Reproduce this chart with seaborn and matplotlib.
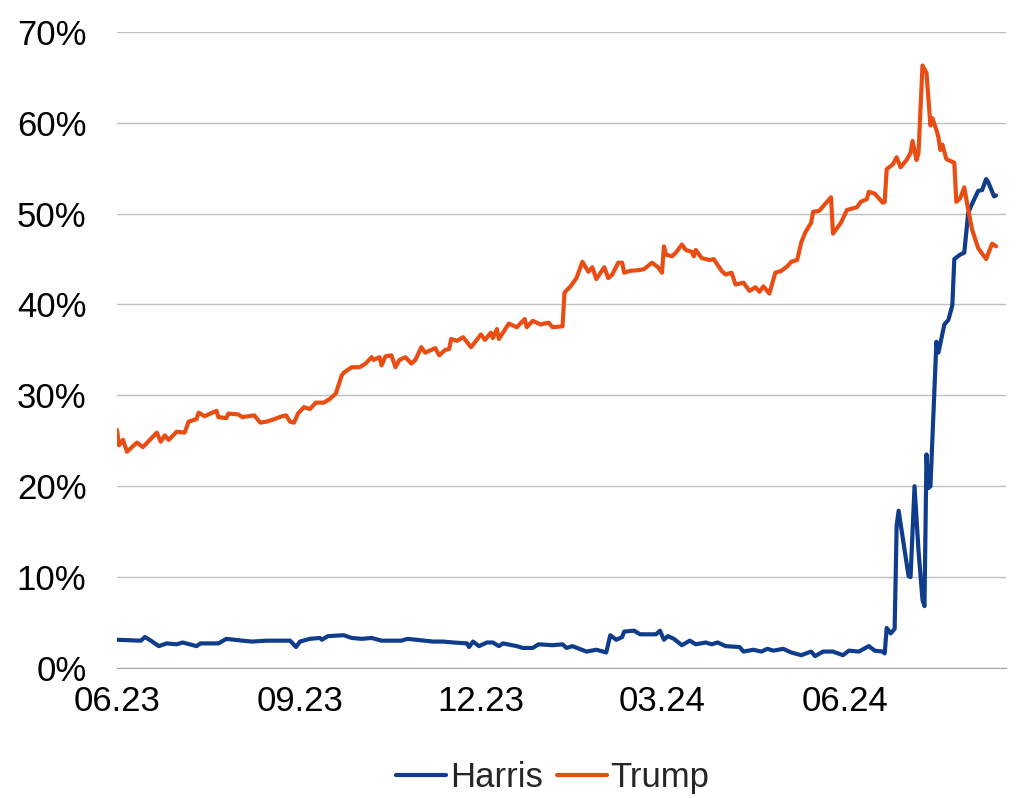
import pandas as pd
import matplotlib
matplotlib.use('Agg')
import matplotlib.pyplot as plt
import matplotlib.dates as mdates
from matplotlib.ticker import PercentFormatter
import seaborn as sns

# Betting odds (share, in %)
trump_dates = [
    '2023-06-01', '2023-06-02', '2023-06-04', '2023-06-06', '2023-06-11', '2023-06-14',
    '2023-06-21', '2023-06-23', '2023-06-25', '2023-06-27', '2023-07-01', '2023-07-05',
    '2023-07-07', '2023-07-11', '2023-07-12', '2023-07-15', '2023-07-21', '2023-07-22',
    '2023-07-26', '2023-07-27', '2023-08-01', '2023-08-03', '2023-08-09', '2023-08-12',
    '2023-08-15', '2023-08-18', '2023-08-23', '2023-08-25', '2023-08-27', '2023-08-29',
    '2023-08-31', '2023-09-03', '2023-09-06', '2023-09-09', '2023-09-13', '2023-09-16',
    '2023-09-19', '2023-09-22', '2023-09-23', '2023-09-27', '2023-10-01', '2023-10-04',
    '2023-10-07', '2023-10-08', '2023-10-11', '2023-10-12', '2023-10-14', '2023-10-17',
    '2023-10-19', '2023-10-21', '2023-10-24', '2023-10-27', '2023-10-29', '2023-11-01',
    '2023-11-03', '2023-11-08', '2023-11-10', '2023-11-13', '2023-11-15', '2023-11-16',
    '2023-11-19', '2023-11-22', '2023-11-26', '2023-12-01', '2023-12-03', '2023-12-06',
    '2023-12-07', '2023-12-09', '2023-12-10', '2023-12-15', '2023-12-19', '2023-12-23',
    '2023-12-24', '2023-12-27', '2023-12-31', '2024-01-04', '2024-01-06', '2024-01-11',
    '2024-01-12', '2024-01-15', '2024-01-18', '2024-01-21', '2024-01-24', '2024-01-26',
    '2024-01-28', '2024-02-01', '2024-02-03', '2024-02-05', '2024-02-08', '2024-02-10',
    '2024-02-11', '2024-02-14', '2024-02-19', '2024-02-21', '2024-02-25', '2024-02-28',
    '2024-03-01', '2024-03-02', '2024-03-03', '2024-03-06', '2024-03-08', '2024-03-11',
    '2024-03-13', '2024-03-16', '2024-03-17', '2024-03-18', '2024-03-21', '2024-03-25',
    '2024-03-27', '2024-03-31', '2024-04-02', '2024-04-05', '2024-04-07', '2024-04-11',
    '2024-04-14', '2024-04-17', '2024-04-19', '2024-04-21', '2024-04-24', '2024-04-27',
    '2024-04-30', '2024-05-03', '2024-05-05', '2024-05-08', '2024-05-10', '2024-05-12',
    '2024-05-15', '2024-05-16', '2024-05-19', '2024-05-25', '2024-05-26', '2024-05-30',
    '2024-06-02', '2024-06-07', '2024-06-09', '2024-06-12', '2024-06-13', '2024-06-16',
    '2024-06-20', '2024-06-21', '2024-06-22', '2024-06-25', '2024-06-27', '2024-06-29',
    '2024-07-02', '2024-07-04', '2024-07-05', '2024-07-07', '2024-07-08', '2024-07-10',
    '2024-07-12', '2024-07-14', '2024-07-15', '2024-07-17', '2024-07-18', '2024-07-19',
    '2024-07-20', '2024-07-22', '2024-07-26', '2024-07-27', '2024-07-29', '2024-07-31',
    '2024-08-02', '2024-08-04', '2024-08-07', '2024-08-11', '2024-08-14', '2024-08-16',
]
trump_vals = [
    26.2, 24.5, 25.1, 23.8, 24.8, 24.3,
    25.9, 24.9, 25.6, 25.1, 26.0, 25.9,
    27.1, 27.4, 28.1, 27.7, 28.3, 27.6,
    27.5, 28.0, 27.9, 27.6, 27.8, 27.0,
    27.1, 27.3, 27.7, 27.8, 27.1, 27.0,
    28.0, 28.7, 28.5, 29.2, 29.2, 29.6,
    30.2, 32.2, 32.5, 33.1, 33.1, 33.5,
    34.2, 33.9, 34.2, 33.3, 34.3, 34.4,
    33.1, 33.9, 34.2, 33.5, 33.9, 35.3,
    34.7, 35.2, 34.4, 35.0, 35.1, 36.2,
    36.0, 36.4, 35.3, 36.7, 36.1, 36.9,
    36.3, 37.3, 36.2, 37.9, 37.5, 38.4,
    37.5, 38.2, 37.8, 38.0, 37.5, 37.6,
    41.3, 42.0, 42.9, 44.7, 43.6, 44.1,
    42.8, 44.1, 42.9, 43.3, 44.6, 44.6,
    43.5, 43.7, 43.8, 43.9, 44.6, 44.1,
    43.5, 46.4, 45.5, 45.3, 45.7, 46.6,
    46.0, 45.8, 45.3, 46.0, 45.1, 44.9,
    45.0, 43.7, 43.3, 43.5, 42.2, 42.4,
    41.5, 41.9, 41.4, 42.0, 41.2, 43.5,
    43.7, 44.2, 44.7, 44.9, 46.8, 47.9,
    49.0, 50.2, 50.3, 51.8, 47.8, 49.0,
    50.4, 50.7, 51.3, 51.6, 52.4, 52.2,
    51.2, 51.3, 54.9, 55.4, 56.2, 55.1,
    55.9, 56.7, 58.0, 55.9, 56.7, 66.3,
    65.5, 59.7, 60.5, 59.2, 58.4, 57.0,
    57.6, 56.0, 55.6, 51.3, 51.7, 52.9,
    50.4, 48.2, 46.2, 45.0, 46.7, 46.4,
]

harris_dates = [
    '2023-06-01', '2023-06-13', '2023-06-15', '2023-06-18', '2023-06-22', '2023-06-26',
    '2023-07-01', '2023-07-04', '2023-07-11', '2023-07-13', '2023-07-22', '2023-07-26',
    '2023-08-03', '2023-08-08', '2023-08-15', '2023-08-27', '2023-08-30', '2023-09-01',
    '2023-09-06', '2023-09-11', '2023-09-12', '2023-09-15', '2023-09-23', '2023-09-27',
    '2023-10-02', '2023-10-07', '2023-10-12', '2023-10-22', '2023-10-25', '2023-11-07',
    '2023-11-12', '2023-11-17', '2023-11-24', '2023-11-25', '2023-11-27', '2023-11-30',
    '2023-12-04', '2023-12-07', '2023-12-10', '2023-12-12', '2023-12-19', '2023-12-22',
    '2023-12-27', '2023-12-30', '2024-01-06', '2024-01-11', '2024-01-13', '2024-01-16',
    '2024-01-23', '2024-01-28', '2024-02-02', '2024-02-04', '2024-02-07', '2024-02-10',
    '2024-02-11', '2024-02-16', '2024-02-19', '2024-02-27', '2024-02-29', '2024-03-02',
    '2024-03-04', '2024-03-07', '2024-03-11', '2024-03-15', '2024-03-18', '2024-03-23',
    '2024-03-26', '2024-03-29', '2024-04-02', '2024-04-09', '2024-04-11', '2024-04-16',
    '2024-04-20', '2024-04-23', '2024-04-26', '2024-05-01', '2024-05-05', '2024-05-10',
    '2024-05-15', '2024-05-17', '2024-05-21', '2024-05-26', '2024-05-31', '2024-06-03',
    '2024-06-08', '2024-06-13', '2024-06-16', '2024-06-20', '2024-06-21', '2024-06-22',
    '2024-06-24', '2024-06-26', '2024-06-27', '2024-06-28', '2024-07-03', '2024-07-04',
    '2024-07-06', '2024-07-08', '2024-07-10', '2024-07-11', '2024-07-12', '2024-07-13',
    '2024-07-14', '2024-07-17', '2024-07-18', '2024-07-21', '2024-07-23', '2024-07-25',
    '2024-07-26', '2024-07-29', '2024-07-31', '2024-08-02', '2024-08-04', '2024-08-07',
    '2024-08-09', '2024-08-11', '2024-08-12', '2024-08-15', '2024-08-16',
]
harris_vals = [
    3.1, 3.0, 3.4, 3.0, 2.4, 2.7,
    2.6, 2.8, 2.4, 2.7, 2.7, 3.2,
    3.0, 2.9, 3.0, 3.0, 2.3, 2.9,
    3.2, 3.3, 3.1, 3.5, 3.6, 3.3,
    3.2, 3.3, 3.0, 3.0, 3.2, 2.9,
    2.9, 2.8, 2.7, 2.3, 2.9, 2.4,
    2.8, 2.8, 2.4, 2.7, 2.4, 2.2,
    2.2, 2.6, 2.5, 2.6, 2.2, 2.4,
    1.8, 2.0, 1.7, 3.6, 3.1, 3.4,
    4.0, 4.1, 3.7, 3.7, 4.1, 3.1,
    3.5, 3.2, 2.5, 3.0, 2.6, 2.8,
    2.6, 2.8, 2.4, 2.3, 1.8, 2.0,
    1.8, 2.1, 1.9, 2.1, 1.7, 1.4,
    1.8, 1.3, 1.8, 1.8, 1.4, 1.9,
    1.8, 2.4, 1.9, 1.8, 1.6, 4.4,
    3.8, 4.3, 15.6, 17.3, 10.1, 10.0,
    20.0, 12.9, 7.5, 6.8, 23.5, 19.8,
    20.0, 35.9, 34.7, 37.8, 38.3, 39.9,
    45.0, 45.5, 45.7, 50.1, 51.1, 52.5,
    52.6, 53.8, 53.5, 51.9, 52.0,
]

candidates = ['Harris', 'Trump']
colors = ['#0F3D8C', '#E84E14']
tick_dates = ['2023-06-01', '2023-09-01', '2023-12-01', '2024-03-01', '2024-06-01']

df = pd.concat([
    pd.DataFrame({'date': pd.to_datetime(harris_dates), 'odds': harris_vals, 'candidate': 'Harris'}),
    pd.DataFrame({'date': pd.to_datetime(trump_dates), 'odds': trump_vals, 'candidate': 'Trump'}),
])

sns.set_style('white')
plt.rcParams['font.family'] = ['Liberation Sans', 'DejaVu Sans']

fig = plt.figure(figsize=(10.23, 7.98), dpi=100)
ax = fig.add_axes([0.1144, 0.163, 0.869, 0.797])

sns.lineplot(data=df, x='date', y='odds', hue='candidate', hue_order=candidates,
             palette=dict(zip(candidates, colors)), linewidth=3.0, ax=ax)

ax.set_ylim(0, 70)
ax.set_xlim(pd.Timestamp('2023-06-01'), pd.Timestamp('2024-08-21'))
ax.set_yticks(range(0, 71, 10))
ax.yaxis.set_major_formatter(PercentFormatter(decimals=0))
ax.set_xticks(pd.to_datetime(tick_dates))
ax.xaxis.set_major_formatter(mdates.DateFormatter('%m.%y'))
ax.grid(axis='y', color='#BFBFBF', linewidth=1)
ax.grid(axis='x', visible=False)
ax.set_axisbelow(True)
for side in ['top', 'right', 'left']:
    ax.spines[side].set_visible(False)
ax.spines['bottom'].set_color('#A6A6A6')
ax.tick_params(axis='both', labelsize=25, length=0, colors='black')
ax.tick_params(axis='y', pad=22)
ax.tick_params(axis='x', pad=12)
ax.set_xlabel('')
ax.set_ylabel('')

ax.legend(loc='center', bbox_to_anchor=(0.49, -0.173), ncol=2, frameon=False,
          fontsize=25, handlelength=1.45, handletextpad=0.1, columnspacing=0.4)

plt.savefig('out.png', dpi=100)
